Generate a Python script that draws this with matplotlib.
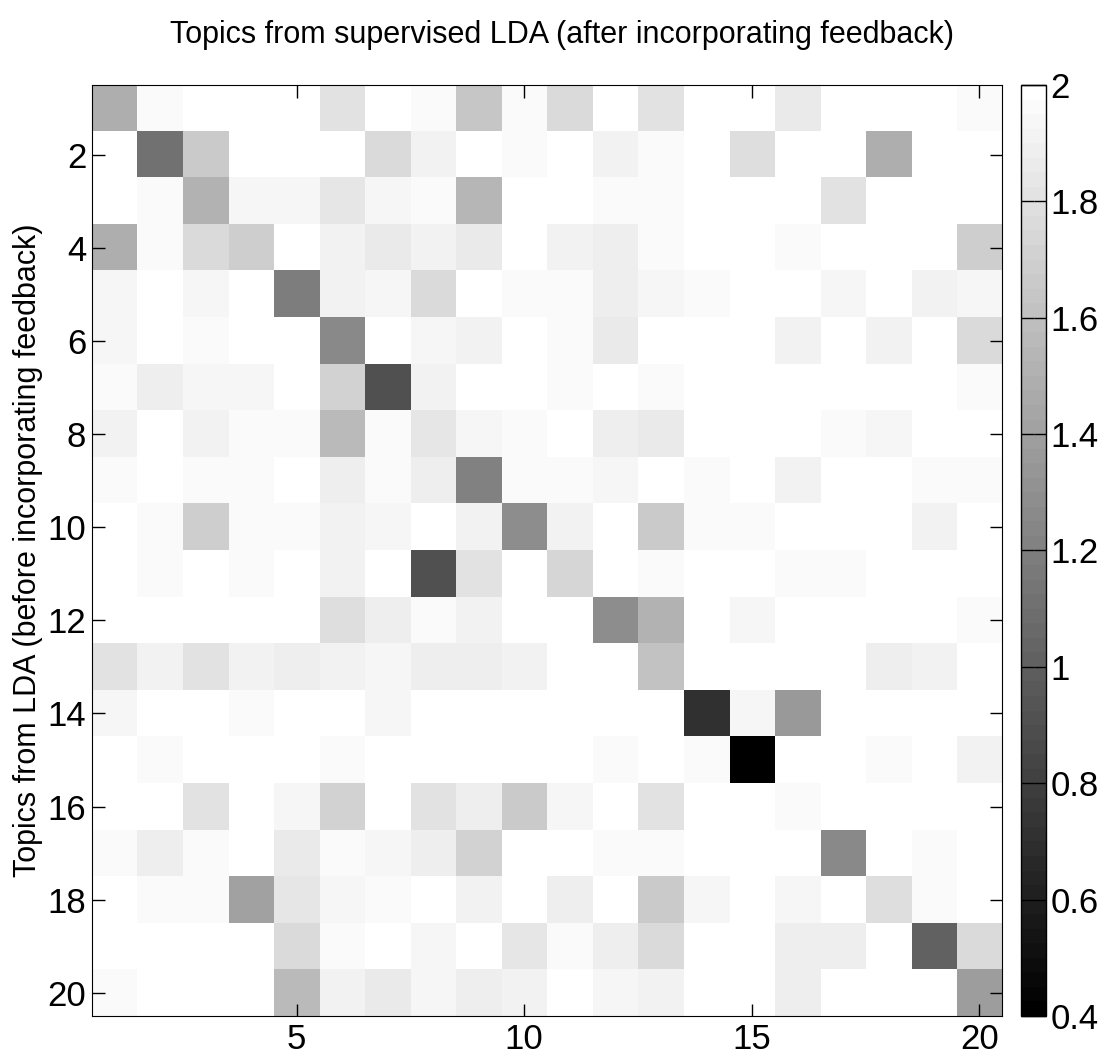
import numpy as np
import matplotlib
matplotlib.use('Agg')
import matplotlib.pyplot as plt

plt.rcParams['font.family'] = ['Liberation Sans', 'DejaVu Sans']

# similarity between topics (row: LDA topic, col: supervised LDA topic)
row_01 = [1.49, 1.97, 2.00, 2.00, 2.00, 1.81, 2.00, 1.97, 1.64, 1.97, 1.76, 2.00, 1.81, 2.00, 2.00, 1.86, 2.00, 2.00, 2.00, 1.97]
row_02 = [2.00, 1.12, 1.67, 2.00, 2.00, 2.00, 1.76, 1.92, 2.00, 1.97, 2.00, 1.92, 1.97, 2.00, 1.79, 2.00, 2.00, 1.49, 2.00, 2.00]
row_03 = [2.00, 1.97, 1.50, 1.93, 1.93, 1.84, 1.94, 1.97, 1.55, 2.00, 2.00, 1.97, 1.97, 2.00, 2.00, 2.00, 1.81, 2.00, 2.00, 2.00]
row_04 = [1.49, 1.97, 1.77, 1.69, 2.00, 1.92, 1.87, 1.91, 1.87, 2.00, 1.91, 1.89, 1.97, 2.00, 2.00, 1.97, 2.00, 2.00, 2.00, 1.69]
row_05 = [1.93, 2.00, 1.93, 2.00, 1.19, 1.92, 1.94, 1.77, 2.00, 1.97, 1.97, 1.89, 1.93, 1.97, 2.00, 2.00, 1.93, 2.00, 1.91, 1.93]
row_06 = [1.93, 2.00, 1.97, 2.00, 2.00, 1.27, 2.00, 1.94, 1.91, 2.00, 1.97, 1.87, 2.00, 2.00, 2.00, 1.91, 2.00, 1.92, 2.00, 1.76]
row_07 = [1.97, 1.89, 1.93, 1.93, 2.00, 1.72, 0.90, 1.92, 1.99, 2.00, 1.97, 2.00, 1.97, 2.00, 2.00, 2.00, 2.00, 2.00, 2.00, 1.97]
row_08 = [1.92, 2.00, 1.92, 1.97, 1.97, 1.57, 1.97, 1.84, 1.94, 1.97, 2.00, 1.89, 1.87, 2.00, 2.00, 2.00, 1.97, 1.94, 2.00, 2.00]
row_09 = [1.97, 2.00, 1.97, 1.97, 2.00, 1.89, 1.97, 1.89, 1.21, 1.97, 1.97, 1.94, 2.00, 1.97, 2.00, 1.91, 2.00, 2.00, 1.97, 1.97]
row_10 = [2.00, 1.97, 1.68, 1.97, 1.97, 1.92, 1.94, 2.00, 1.92, 1.28, 1.91, 2.00, 1.65, 1.97, 1.97, 2.00, 2.00, 2.00, 1.91, 2.00]
row_11 = [2.00, 1.97, 2.00, 1.97, 2.00, 1.91, 2.00, 0.91, 1.81, 2.00, 1.73, 2.00, 1.97, 2.00, 2.00, 1.97, 1.97, 2.00, 2.00, 2.00]
row_12 = [2.00, 2.00, 2.00, 2.00, 2.00, 1.78, 1.89, 1.97, 1.91, 2.00, 2.00, 1.28, 1.51, 2.00, 1.94, 2.00, 2.00, 2.00, 2.00, 1.97]
row_13 = [1.81, 1.91, 1.81, 1.92, 1.89, 1.91, 1.94, 1.89, 1.89, 1.91, 2.00, 2.00, 1.61, 2.00, 2.00, 2.00, 2.00, 1.89, 1.92, 2.00]
row_14 = [1.93, 2.00, 2.00, 1.97, 2.00, 2.00, 1.94, 2.00, 2.00, 2.00, 2.00, 2.00, 2.00, 0.72, 1.94, 1.35, 2.00, 2.00, 2.00, 2.00]
row_15 = [2.00, 1.97, 2.00, 2.00, 2.00, 1.97, 2.00, 2.00, 2.00, 2.00, 2.00, 1.97, 2.00, 1.97, 0.40, 2.00, 2.00, 1.97, 2.00, 1.91]
row_16 = [2.00, 2.00, 1.81, 2.00, 1.94, 1.71, 2.00, 1.81, 1.89, 1.65, 1.94, 2.00, 1.81, 2.00, 2.00, 1.97, 2.00, 2.00, 2.00, 2.00]
row_17 = [1.97, 1.89, 1.97, 2.00, 1.86, 1.97, 1.94, 1.89, 1.71, 2.00, 2.00, 1.97, 1.97, 2.00, 2.00, 2.00, 1.27, 2.00, 1.97, 2.00]
row_18 = [2.00, 1.97, 1.97, 1.42, 1.84, 1.94, 1.97, 2.00, 1.91, 2.00, 1.89, 2.00, 1.65, 1.94, 2.00, 1.94, 2.00, 1.78, 1.97, 2.00]
row_19 = [2.00, 2.00, 2.00, 2.00, 1.76, 1.97, 2.00, 1.94, 2.00, 1.84, 1.97, 1.89, 1.77, 2.00, 2.00, 1.89, 1.89, 2.00, 1.01, 1.76]
row_20 = [1.97, 2.00, 2.00, 2.00, 1.56, 1.91, 1.86, 1.94, 1.89, 1.91, 2.00, 1.94, 1.91, 2.00, 2.00, 1.89, 2.00, 2.00, 2.00, 1.40]

x_ticks = [5, 10, 15, 20]
y_ticks = [2, 4, 6, 8, 10, 12, 14, 16, 18, 20]
cbar_ticks = [0.4, 0.6, 0.8, 1.0, 1.2, 1.4, 1.6, 1.8, 2.0]
cbar_labels = ['0.4', '0.6', '0.8', '1', '1.2', '1.4', '1.6', '1.8', '2']

data = np.array([row_01, row_02, row_03, row_04, row_05, row_06, row_07, row_08, row_09, row_10,
                 row_11, row_12, row_13, row_14, row_15, row_16, row_17, row_18, row_19, row_20])
n = data.shape[0]

fig = plt.figure(figsize=(11.05, 10.57), dpi=100)
ax = fig.add_axes([0.083, 0.0388, 0.8238, 0.8808])
cax = fig.add_axes([0.924, 0.0388, 0.0226, 0.8808])

# matlab style 64 level gray map
cmap = plt.get_cmap('gray', 64)
im = ax.imshow(data, cmap=cmap, vmin=0.4, vmax=2.0, interpolation='nearest',
               extent=(0.5, n + 0.5, n + 0.5, 0.5), aspect='auto')

ax.set_xticks(x_ticks)
ax.set_yticks(y_ticks)
ax.tick_params(direction='in', length=9, width=1, labelsize=25,
               top=True, right=True)
ax.tick_params(axis='x', pad=5)
ax.tick_params(axis='y', pad=4)
ax.set_ylabel('Topics from LDA (before incorporating feedback)', fontsize=22, labelpad=3)
ax.set_title('Topics from supervised LDA (after incorporating feedback)', fontsize=22,
             pad=30, x=0.5165)

cb = fig.colorbar(im, cax=cax)
cb.set_ticks(cbar_ticks)
cb.set_ticklabels(cbar_labels)
cax.tick_params(direction='in', length=9, width=1, labelsize=25, left=True, right=True, pad=3)
cb.outline.set_linewidth(1)

fig.savefig('out.png', dpi=100)
